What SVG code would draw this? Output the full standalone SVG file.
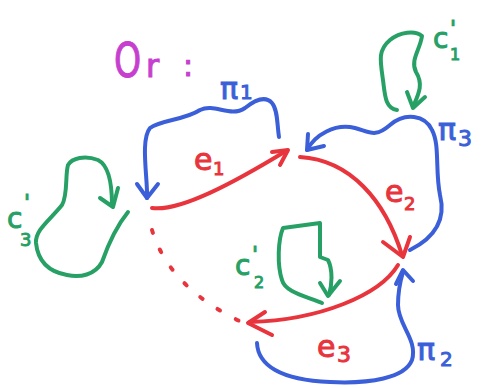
<svg xmlns="http://www.w3.org/2000/svg" width="485" height="388" viewBox="0 0 485 388">
<style>
.ln{fill:none;stroke-width:4;stroke-linecap:round;stroke-linejoin:round}
.r{stroke:#e8343d}.b{stroke:#3b5fd8}.g{stroke:#27a065}
.t{font-family:"DejaVu Sans","Liberation Sans",sans-serif;stroke-width:1}
.tr{fill:#e8343d;stroke:#e8343d}.tb{fill:#3b5fd8;stroke:#3b5fd8}.tg{fill:#27a065;stroke:#27a065}
</style>
<rect width="485" height="388" fill="#fff"/>
<g id="title" fill="#c63fcf" stroke="#c63fcf" stroke-width="2"><text class="t" transform="translate(114,77) scale(0.72,1)" font-size="48">O</text><text class="t" x="146" y="77" font-size="32">r</text><text class="t" x="183" y="76" font-size="30">:</text></g>
<g id="connectors">
<g id="e1"><path class="ln r" d="M152,208 C180,212 235,182 286,151"/><path class="ln r" d="M272,152 L288,150 L280,165"/><text class="t tr" x="194" y="170" font-size="30">e</text><text class="t tr" x="213" y="175" font-size="18">1</text></g>
<g id="e2"><path class="ln r" d="M300,157 C350,160 385,200 402,255"/><path class="ln r" d="M383,242 L403,257 L410,237"/><text class="t tr" x="385" y="202" font-size="30">e</text><text class="t tr" x="404" y="210" font-size="18">2</text></g>
<g id="e3"><path class="ln r" d="M398,265 C380,295 320,320 250,322"/><path class="ln r" d="M265,312 L248,323 L272,335"/><text class="t tr" x="317" y="357" font-size="30">e</text><text class="t tr" x="337" y="362" font-size="22">3</text></g>
<g id="dots"><path class="ln r" stroke-width="4.5" stroke-dasharray="3 18" d="M152,230 Q170,290 248,325"/></g>
<g id="pi1"><path class="ln b" d="M147,198 C148,180 140,140 150,128 C160,120 185,120 200,110 C215,103 230,118 245,108 C255,100 265,95 272,103 C278,110 277,125 279,137"/><path class="ln b" d="M137,184 L147,198 L158,184"/><text class="t tb" x="220" y="99" font-size="30">π</text><text class="t tb" x="240" y="99" font-size="20">1</text></g>
<g id="pi3"><path class="ln b" d="M307,150 C315,135 335,123 355,128 C370,132 375,138 390,125 C405,112 425,115 432,130 C440,145 435,170 440,195 C445,215 440,235 410,250"/><path class="ln b" d="M308,134 L307,150 L324,146"/><text class="t tb" x="438" y="140" font-size="30">π</text><text class="t tb" x="458" y="146" font-size="22">3</text></g>
<g id="pi2"><path class="ln b" d="M257,343 C258,365 280,380 330,382 C370,384 405,378 412,360 C418,340 398,325 398,305 C398,290 400,282 403,272"/><path class="ln b" d="M396,284 L403,270 L413,281"/><text class="t tb" x="417" y="360" font-size="30">π</text><text class="t tb" x="440" y="366" font-size="20">2</text></g>
<g id="c1"><path class="ln g" d="M397,110 C385,108 385,95 383,80 C380,60 378,50 390,40 C400,32 415,30 422,36 C420,50 410,60 416,72 C424,85 418,95 413,107"/><path class="ln g" d="M407,92 L413,108 L425,97"/><text class="t tg" x="433" y="48" font-size="28">c</text><text class="t tg" x="450" y="36" font-size="22">'</text><text class="t tg" x="450" y="60" font-size="16">1</text></g>
<g id="c2"><path class="ln g" d="M322,303 C305,296 285,292 282,280 C277,265 278,240 283,228 L320,223 L320,257 L328,260 C333,270 332,285 329,295"/><path class="ln g" d="M320,283 L328,296 L340,281"/><text class="t tg" x="235" y="275" font-size="28">c</text><text class="t tg" x="252" y="262" font-size="22">'</text><text class="t tg" x="254" y="288" font-size="16">2</text></g>
<g id="c3"><path class="ln g" d="M128,212 C115,228 108,245 102,262 C95,275 80,278 67,275 C50,272 38,262 36,243 C35,230 50,220 62,205 C68,195 65,175 68,165 C72,158 85,155 98,160 C108,165 112,180 112,205"/><path class="ln g" d="M100,198 L113,207 L118,188"/><text class="t tg" x="7" y="228" font-size="28">c</text><text class="t tg" x="24" y="210" font-size="22">'</text><text class="t tg" x="20" y="246" font-size="18">3</text></g>
</g>
</svg>
